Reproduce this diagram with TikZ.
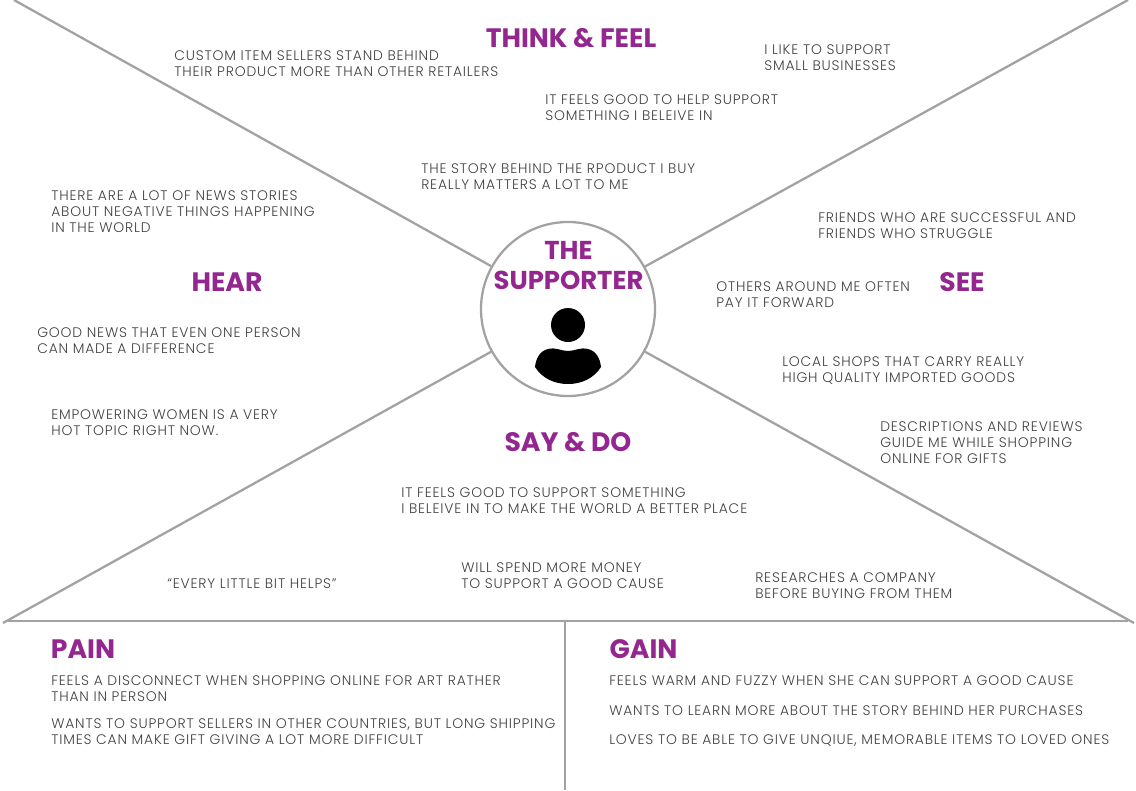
\documentclass[tikz,border=0pt]{standalone}
\usepackage{fontspec}
\setmainfont[LetterSpace=6]{Poppins Light}
\newfontfamily\headfont{Poppins Bold}
\usetikzlibrary{positioning}
\definecolor{headpurple}{HTML}{93278F}
\definecolor{linegray}{HTML}{A3A1A1}
\tikzset{
  note/.style={anchor=north west,align=left,inner sep=0pt,text=black!75,font=\fontsize{10.4}{12}\selectfont},
  head/.style={text=headpurple,inner sep=0pt,font=\headfont\fontsize{20}{22.5}\selectfont},
  line/.style={draw=linegray,line width=1.7pt}
}

\begin{document}
\begin{tikzpicture}[x=0.75pt,y=-0.75pt]
\useasboundingbox (0,0) rectangle (1136,790);
\coordinate (tl) at (14,0);
\coordinate (tr) at (1128,0);
\coordinate (bl) at (3,623);
\coordinate (br) at (1134,623);
\coordinate (baseleft) at (8,621);
\coordinate (baseright) at (1128,621);
\coordinate (mid) at (565,621);
\coordinate (foot) at (565,790);
\node[circle,draw=linegray,line width=1.7pt,minimum size=130.5pt,inner sep=0pt] (hub) at (568,309) {};
\draw[line] (tl) -- (hub);
\draw[line] (tr) -- (hub);
\draw[line] (bl) -- (hub);
\draw[line] (br) -- (hub);
\draw[line] (baseleft) -- (baseright);
\draw[line] (mid) -- (foot);
% person
\fill (568,325) circle[radius=17];
\fill (535,367) .. controls (536,358) and (540,351) .. (548,349) .. controls (556,347) and (561,351) .. (568,351)
  .. controls (575,351) and (580,347) .. (588,349) .. controls (596,351) and (600,358) .. (601,367)
  .. controls (594,378) and (582,384) .. (568,384) .. controls (554,384) and (542,378) .. (535,367) -- cycle;
% headings
\node[head,align=center,font=\headfont\fontsize{19.4}{22.5}\selectfont] (title) at (568.5,266) {THE\\SUPPORTER};
\node[head] (think) at (571,38) {THINK \& FEEL};
\node[head] (hear) at (227,282) {HEAR};
\node[head] (see) at (962,282) {SEE};
\node[head] (say) at (568,442.5) {SAY \& DO};
\node[head] (pain) at (83,649) {PAIN};
\node[head] (gain) at (643.5,649) {GAIN};
% think and feel
\node[note] (t1) at (174,50) {CUSTOM ITEM SELLERS STAND BEHIND\\THEIR PRODUCT MORE THAN OTHER RETAILERS};
\node[note] (t2) at (764,44) {I LIKE TO SUPPORT\\SMALL BUSINESSES};
\node[note] (t3) at (545,94) {IT FEELS GOOD TO HELP SUPPORT\\SOMETHING I BELEIVE IN};
\node[note] (t4) at (421,163) {THE STORY BEHIND THE RPODUCT I BUY\\REALLY MATTERS A LOT TO ME};
% hear
\node[note] (h1) at (51,190) {THERE ARE A LOT OF NEWS STORIES\\ABOUT NEGATIVE THINGS HAPPENING\\IN THE WORLD};
\node[note] (h2) at (37,327) {GOOD NEWS THAT EVEN ONE PERSON\\CAN MADE A DIFFERENCE};
\node[note] (h3) at (51,409) {EMPOWERING WOMEN IS A VERY\\HOT TOPIC RIGHT NOW.};
% see
\node[note] (s1) at (818,212) {FRIENDS WHO ARE SUCCESSFUL AND\\FRIENDS WHO STRUGGLE};
\node[note] (s2) at (716,281) {OTHERS AROUND ME OFTEN\\PAY IT FORWARD};
\node[note] (s3) at (782,356) {LOCAL SHOPS THAT CARRY REALLY\\HIGH QUALITY IMPORTED GOODS};
\node[note] (s4) at (880,421) {DESCRIPTIONS AND REVIEWS\\GUIDE ME WHILE SHOPPING\\ONLINE FOR GIFTS};
% say and do
\node[note] (d1) at (401,487) {IT FEELS GOOD TO SUPPORT SOMETHING\\I BELEIVE IN TO MAKE THE WORLD A BETTER PLACE};
\node[note] (d2) at (167,578) {“EVERY LITTLE BIT HELPS”};
\node[note] (d3) at (461,562) {WILL SPEND MORE MONEY\\TO SUPPORT A GOOD CAUSE};
\node[note] (d4) at (755,572) {RESEARCHES A COMPANY\\BEFORE BUYING FROM THEM};
% pain and gain
\node[note] (p1) at (51,675) {FEELS A DISCONNECT WHEN SHOPPING ONLINE FOR ART RATHER\\THAN IN PERSON};
\node[note] (p2) at (51,718) {WANTS TO SUPPORT SELLERS IN OTHER COUNTRIES, BUT LONG SHIPPING\\TIMES CAN MAKE GIFT GIVING A LOT MORE DIFFICULT};
\node[note] (g1) at (609,675) {FEELS WARM AND FUZZY WHEN SHE CAN SUPPORT A GOOD CAUSE};
\node[note] (g2) at (609,705) {WANTS TO LEARN MORE ABOUT THE STORY BEHIND HER PURCHASES};
\node[note] (g3) at (609,734) {LOVES TO BE ABLE TO GIVE UNQIUE, MEMORABLE ITEMS TO LOVED ONES};
\end{tikzpicture}
\end{document}
